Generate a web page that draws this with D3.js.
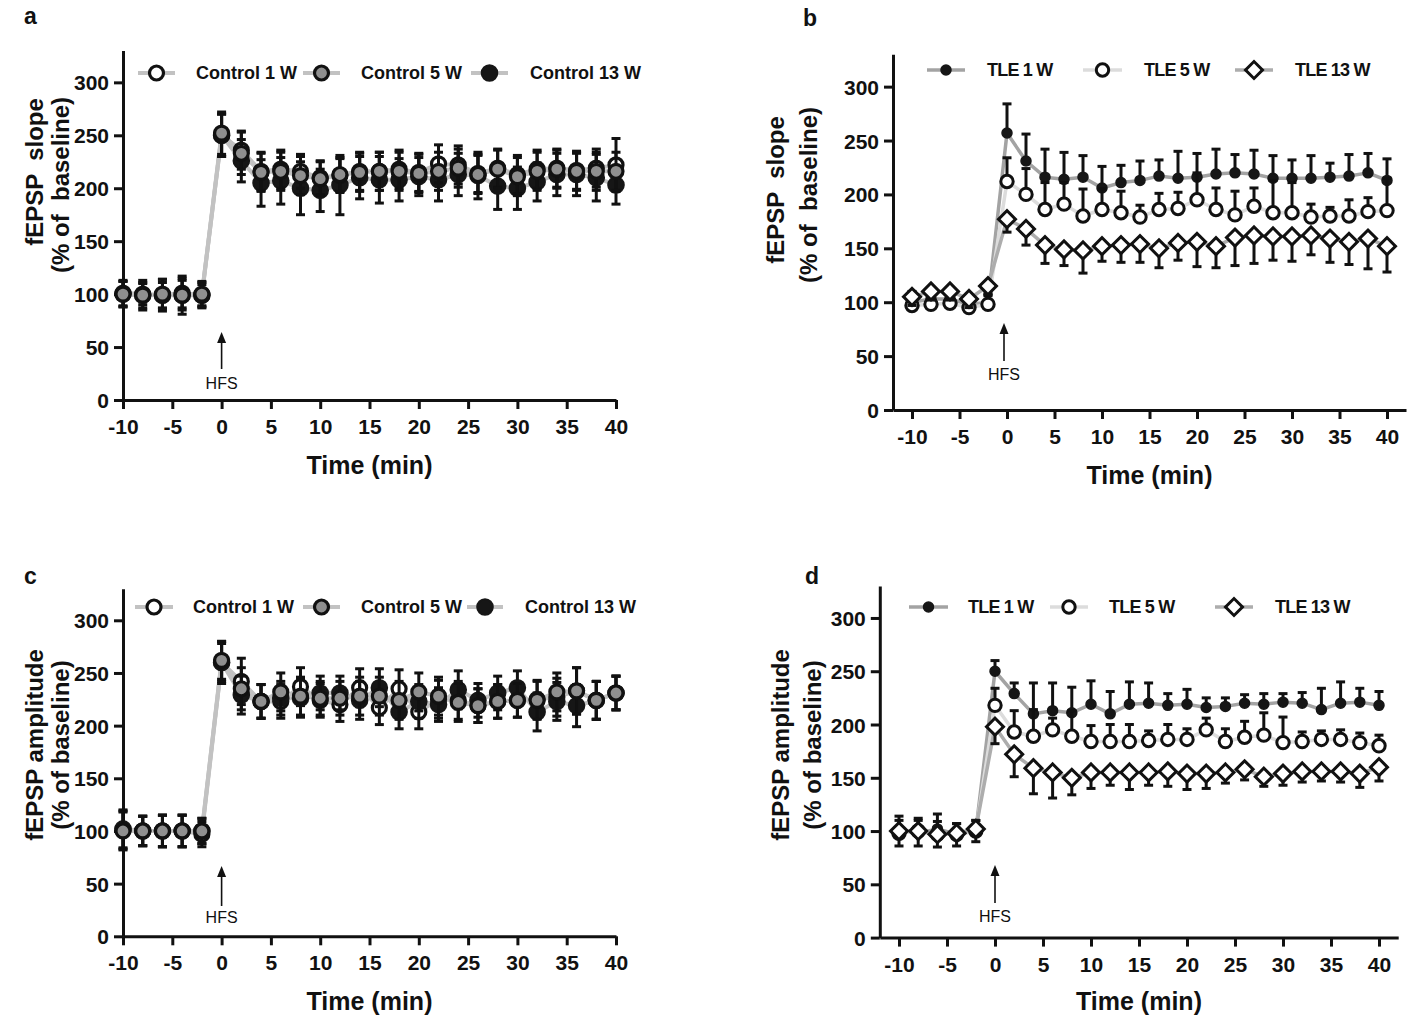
<!DOCTYPE html>
<html><head><meta charset="utf-8">
<script src="https://cdn.jsdelivr.net/npm/d3@7"></script>
<style>
body{margin:0;background:#fff;}
svg{display:block;font-family:Arial,"Liberation Sans",Helvetica,sans-serif;}
</style></head><body>
<svg id="chart" width="1418" height="1019"></svg>
<script>
// ---------- DATA ----------
const timeMin = [-10,-8,-6,-4,-2,0,2,4,6,8,10,12,14,16,18,20,22,24,26,28,30,32,34,36,38,40];
const xTickValues = [-10,-5,0,5,10,15,20,25,30,35,40];
const yTickValues = [0,50,100,150,200,250,300];
const controlNames = ["Control 1 W","Control 5 W","Control 13 W"];
const tleNames = ["TLE 1 W","TLE 5 W","TLE 13 W"];

// panel a: fEPSP slope, controls
const slopeControl1W = [101,100,99,101,99, 250,236,216,218,216,210,212,216,216,218,215,223,222,214,219,213,218,219,217,219,222];
const slopeControl1WErr = [12,10,12,14,10, 20,18,18,18,16,16,16,18,18,18,18,18,18,18,18,18,18,18,18,18,25];
const slopeControl5W = [100,99,100,99,100, 252,233,215,216,212,209,213,215,216,216,214,216,219,213,218,211,216,218,216,216,216];
const slopeControl5WErr = [12,12,14,14,12, 20,20,18,18,18,16,16,18,18,18,18,18,18,18,18,18,18,18,18,18,18];
const slopeControl13W = [100,99,99,99,99, 250,226,205,207,200,198,203,210,208,208,211,208,213,212,202,200,206,213,213,210,203];
const slopeControl13WErr = [12,14,15,18,12, 20,20,22,22,25,20,28,20,22,20,18,20,20,22,22,20,18,20,20,22,18];

// panel b: fEPSP slope, TLE
const slopeTLE1W = [100,103,103,98,100, 257,231,216,214,216,206,211,213,217,215,216,219,220,219,215,215,215,216,217,220,213];
const slopeTLE1WErr = [10,10,10,8,8, 27,25,26,25,20,20,16,18,15,25,22,23,17,22,21,17,21,13,20,18,20];
const slopeTLE5W = [97,98,99,95,98, 212,200,186,191,180,186,183,179,186,187,195,186,181,189,183,183,179,180,180,184,185];
const slopeTLE5WErr = [8,8,8,8,8, 22,24,25,20,25,19,20,11,15,15,25,20,22,17,30,28,12,8,15,13,30];
const slopeTLE13W = [105,110,110,103,115, 177,168,153,149,148,152,153,154,150,155,156,152,160,162,161,161,162,159,156,159,152];
const slopeTLE13WErr = [8,8,8,8,8, 12,15,17,15,21,14,16,17,18,16,23,20,26,26,22,23,18,22,21,28,24];

// panel c: fEPSP amplitude, controls
const ampControl1W = [101,100,100,100,97, 260,242,223,223,237,224,220,236,217,235,213,225,224,219,223,224,225,227,233,224,231];
const ampControl1WErr = [18,14,15,15,12, 20,22,16,16,18,16,16,18,16,18,16,18,18,16,16,16,18,18,22,18,16];
const ampControl5W = [100,100,100,100,100, 262,235,223,232,228,226,226,228,228,224,232,228,222,219,223,224,224,232,233,224,231];
const ampControl5WErr = [18,14,15,15,12, 18,20,16,18,18,16,16,18,18,18,18,18,18,16,16,16,18,18,22,18,16];
const ampControl13W = [102,100,100,100,100, 260,229,223,226,226,231,231,224,236,213,223,220,234,224,231,236,213,223,219,224,231];
const ampControl13WErr = [18,14,15,15,12, 18,18,16,16,18,16,16,18,18,16,16,16,18,16,16,16,18,18,20,18,16];

// panel d: fEPSP amplitude, TLE
const ampTLE1W = [100,98,102,97,100, 250,229,210,213,211,219,210,219,220,218,219,216,217,220,219,221,220,214,220,221,218];
const ampTLE1WErr = [14,12,14,10,10, 10,10,29,26,24,22,21,21,19,11,14,9,8,8,10,8,10,20,20,13,13];
const ampTLE5W = [98,100,97,97,100, 218,193,189,195,189,184,184,184,185,186,186,195,184,188,190,183,184,186,186,183,180];
const ampTLE5WErr = [12,12,12,10,10, 16,20,25,11,24,15,16,16,9,14,10,11,12,15,21,24,9,8,9,9,10];
const ampTLE13W = [100,100,97,98,102, 198,172,159,155,150,155,155,155,155,156,154,154,155,158,151,154,156,156,156,154,160];
const ampTLE13WErr = [14,14,12,12,12, 16,21,24,24,16,15,12,16,12,14,15,14,10,10,9,11,10,9,10,13,13];

// ---------- STYLES ----------
const controlStyles = [
  {shape:"circle", r:7, fill:"#ffffff", stroke:"#111", sw:3.2, line:"#c2c2c2", lw:4, err:"both"},
  {shape:"circle", r:7, fill:"#8f8f8f", stroke:"#111", sw:3.2, line:"#c2c2c2", lw:4, err:"both"},
  {shape:"circle", r:7.8, fill:"#161616", stroke:"#161616", sw:2, line:"#c2c2c2", lw:4, err:"both"}
];
const tleStyles = [
  {shape:"circle", r:5, fill:"#161616", stroke:"#161616", sw:1.5, line:"#a3a3a3", lw:3.5, err:"up"},
  {shape:"circle", r:6.2, fill:"#ffffff", stroke:"#111", sw:3, line:"#dcdcdc", lw:3.5, err:"up"},
  {shape:"diamond", r:8.5, fill:"#ffffff", stroke:"#111", sw:3, line:"#adadad", lw:3.5, err:"down"}
];

const svg = d3.select("#chart");

function drawMarker(g, st, cx, cy) {
  if (st.shape === "circle") {
    g.append("circle").attr("cx", cx).attr("cy", cy).attr("r", st.r)
      .attr("fill", st.fill).attr("stroke", st.stroke).attr("stroke-width", st.sw);
  } else {
    const side = st.r * Math.SQRT2;
    g.append("path").attr("d", d3.symbol(d3.symbolSquare, side*side)())
      .attr("transform", `translate(${cx},${cy}) rotate(45)`)
      .attr("fill", st.fill).attr("stroke", st.stroke).attr("stroke-width", st.sw);
  }
}

function drawPanel(p) {
  const g = svg.append("g");
  const x = d3.scaleLinear().domain(p.xDomain).range(p.xRange);
  const y = d3.scaleLinear().domain([0, 330]).range(p.yRange);

  // axes
  const xa = g.append("g").attr("transform", `translate(0,${y(0)})`)
    .call(d3.axisBottom(x).tickValues(xTickValues).tickSize(9).tickSizeOuter(0)
      .tickPadding(10).tickFormat(d => String(d)));
  const ya = g.append("g").attr("transform", `translate(${x(p.xDomain[0])},0)`)
    .call(d3.axisLeft(y).tickValues(yTickValues).tickSize(9).tickSizeOuter(0)
      .tickPadding(5).tickFormat(d => String(d)));
  [xa, ya].forEach(a => {
    a.select(".domain").attr("stroke", "#111").attr("stroke-width", 3);
    a.selectAll(".tick line").attr("stroke", "#111").attr("stroke-width", 3);
    a.selectAll(".tick text").attr("fill", "#111").attr("font-size", 21)
      .attr("font-weight", "bold").attr("font-family", "Arial, 'Liberation Sans', sans-serif");
  });
  ya.selectAll(".tick text").attr("dy", "0.36em");

  // axis titles
  g.append("text").attr("x", (x(-10) + x(40)) / 2).attr("y", p.xTitleY)
    .attr("text-anchor", "middle").attr("font-size", 25).attr("font-weight", "bold")
    .attr("fill", "#111").text("Time (min)");
  p.yTitles.forEach(t => {
    g.append("text").attr("transform", `translate(${t.x},${t.y}) rotate(-90)`)
      .attr("text-anchor", "middle").attr("font-size", 24).attr("font-weight", "bold")
      .attr("fill", "#111").attr("xml:space", "preserve").style("white-space", "pre").text(t.text);
  });
  // panel letter
  g.append("text").attr("x", p.letter.x).attr("y", p.letter.y).attr("font-size", 23)
    .attr("font-weight", "bold").attr("fill", "#111").text(p.letter.text);

  // HFS arrow
  const ax = x(0) + (p.arrowDx || 0);
  g.append("line").attr("x1", ax).attr("x2", ax).attr("y1", p.arrow.tip + 8).attr("y2", p.arrow.bottom)
    .attr("stroke", "#111").attr("stroke-width", 1.6);
  g.append("path").attr("d", d3.line()([[ax, p.arrow.tip], [ax - 4.5, p.arrow.tip + 11], [ax + 4.5, p.arrow.tip + 11]]) + "Z")
    .attr("fill", "#111");
  g.append("text").attr("x", ax).attr("y", p.arrow.textY).attr("text-anchor", "middle")
    .attr("font-size", 16).attr("fill", "#111").attr("dy", "0.35em").text("HFS");

  // lines
  const line = d3.line().x((d, i) => x(timeMin[i])).y(d => y(d));
  p.series.forEach(s => {
    g.append("path").datum(s.values).attr("d", line).attr("fill", "none")
      .attr("stroke", s.style.line).attr("stroke-width", s.style.lw).attr("stroke-linejoin", "round");
  });
  // error bars and markers, in drawing order
  p.drawOrder.forEach(k => {
    const s = p.series[k];
    const sg = g.append("g");
    s.values.forEach((v, i) => {
      const cx = x(timeMin[i]);
      const e = s.err[i];
      const lo = s.style.err === "up" ? v : v - e;
      const hi = s.style.err === "down" ? v : v + e;
      sg.append("line").attr("x1", cx).attr("x2", cx).attr("y1", y(lo)).attr("y2", y(hi))
        .attr("stroke", "#111").attr("stroke-width", 3);
      if (s.style.err !== "down")
        sg.append("line").attr("x1", cx - 4.5).attr("x2", cx + 4.5).attr("y1", y(hi)).attr("y2", y(hi))
          .attr("stroke", "#111").attr("stroke-width", 3);
      if (s.style.err !== "up")
        sg.append("line").attr("x1", cx - 4.5).attr("x2", cx + 4.5).attr("y1", y(lo)).attr("y2", y(lo))
          .attr("stroke", "#111").attr("stroke-width", 3);
    });
    s.values.forEach((v, i) => drawMarker(sg, s.style, x(timeMin[i]), y(v)));
  });

  // legend
  p.legend.forEach((L, k) => {
    const st = p.series[k].style;
    g.append("line").attr("x1", L.x1).attr("x2", L.x2).attr("y1", p.legendY).attr("y2", p.legendY)
      .attr("stroke", st.line).attr("stroke-width", st.lw);
    drawMarker(g, st, (L.x1 + L.x2) / 2, p.legendY);
    g.append("text").attr("x", L.tx).attr("y", p.legendY).attr("dy", "0.35em")
      .attr("font-size", 18).attr("font-weight", "bold").attr("fill", "#111")
      .attr("letter-spacing", p.legendLS || 0).text(p.series[k].name);
  });
}

const panels = [
  {
    xDomain: [-10, 40], xRange: [123, 616], yRange: [400, 50.6],
    xTitleY: 474, letter: {x: 24, y: 24, text: "a"},
    yTitles: [{x: 43, y: 172, text: "fEPSP  slope"}, {x: 69, y: 185, text: "(% of  baseline)"}],
    arrow: {tip: 332, bottom: 369, textY: 383},
    legendY: 73, legendLS: 0,
    legend: [{x1: 138, x2: 175, tx: 196}, {x1: 303, x2: 340, tx: 361}, {x1: 471, x2: 508, tx: 530}],
    series: [
      {name: controlNames[0], values: slopeControl1W, err: slopeControl1WErr, style: controlStyles[0]},
      {name: controlNames[1], values: slopeControl5W, err: slopeControl5WErr, style: controlStyles[1]},
      {name: controlNames[2], values: slopeControl13W, err: slopeControl13WErr, style: controlStyles[2]}
    ],
    drawOrder: [2, 0, 1]
  },
  {
    xDomain: [-12, 42], xRange: [893, 1406], yRange: [410, 54.3],
    xTitleY: 484, letter: {x: 803, y: 26, text: "b"},
    yTitles: [{x: 784, y: 190, text: "fEPSP  slope"}, {x: 817, y: 195, text: "(% of  baseline)"}],
    arrow: {tip: 323, bottom: 361, textY: 374}, arrowDx: -3,
    legendY: 70, legendLS: -0.8,
    legend: [{x1: 927, x2: 965, tx: 987}, {x1: 1083, x2: 1122, tx: 1144}, {x1: 1235, x2: 1273, tx: 1295}],
    series: [
      {name: tleNames[0], values: slopeTLE1W, err: slopeTLE1WErr, style: tleStyles[0]},
      {name: tleNames[1], values: slopeTLE5W, err: slopeTLE5WErr, style: tleStyles[1]},
      {name: tleNames[2], values: slopeTLE13W, err: slopeTLE13WErr, style: tleStyles[2]}
    ],
    drawOrder: [0, 1, 2]
  },
  {
    xDomain: [-10, 40], xRange: [123, 616], yRange: [936.3, 588.7],
    xTitleY: 1010, letter: {x: 24, y: 584, text: "c"},
    yTitles: [{x: 43, y: 745, text: "fEPSP amplitude"}, {x: 69, y: 745, text: "(% of baseline)"}],
    arrow: {tip: 866, bottom: 906, textY: 917},
    legendY: 607, legendLS: 0,
    legend: [{x1: 135, x2: 173, tx: 193}, {x1: 303, x2: 340, tx: 361}, {x1: 467, x2: 503, tx: 525}],
    series: [
      {name: controlNames[0], values: ampControl1W, err: ampControl1WErr, style: controlStyles[0]},
      {name: controlNames[1], values: ampControl5W, err: ampControl5WErr, style: controlStyles[1]},
      {name: controlNames[2], values: ampControl13W, err: ampControl13WErr, style: controlStyles[2]}
    ],
    drawOrder: [0, 2, 1]
  },
  {
    xDomain: [-12, 42], xRange: [879.8, 1398.2], yRange: [937.6, 586],
    xTitleY: 1010, letter: {x: 805, y: 584, text: "d"},
    yTitles: [{x: 789, y: 745, text: "fEPSP amplitude"}, {x: 821, y: 745, text: "(% of baseline)"}],
    arrow: {tip: 865, bottom: 903, textY: 916},
    legendY: 607, legendLS: -0.8,
    legend: [{x1: 909, x2: 948, tx: 968}, {x1: 1050, x2: 1088, tx: 1109}, {x1: 1215, x2: 1253, tx: 1275}],
    series: [
      {name: tleNames[0], values: ampTLE1W, err: ampTLE1WErr, style: tleStyles[0]},
      {name: tleNames[1], values: ampTLE5W, err: ampTLE5WErr, style: tleStyles[1]},
      {name: tleNames[2], values: ampTLE13W, err: ampTLE13WErr, style: tleStyles[2]}
    ],
    drawOrder: [0, 1, 2]
  }
];

panels.forEach(drawPanel);
</script>
</body></html>
